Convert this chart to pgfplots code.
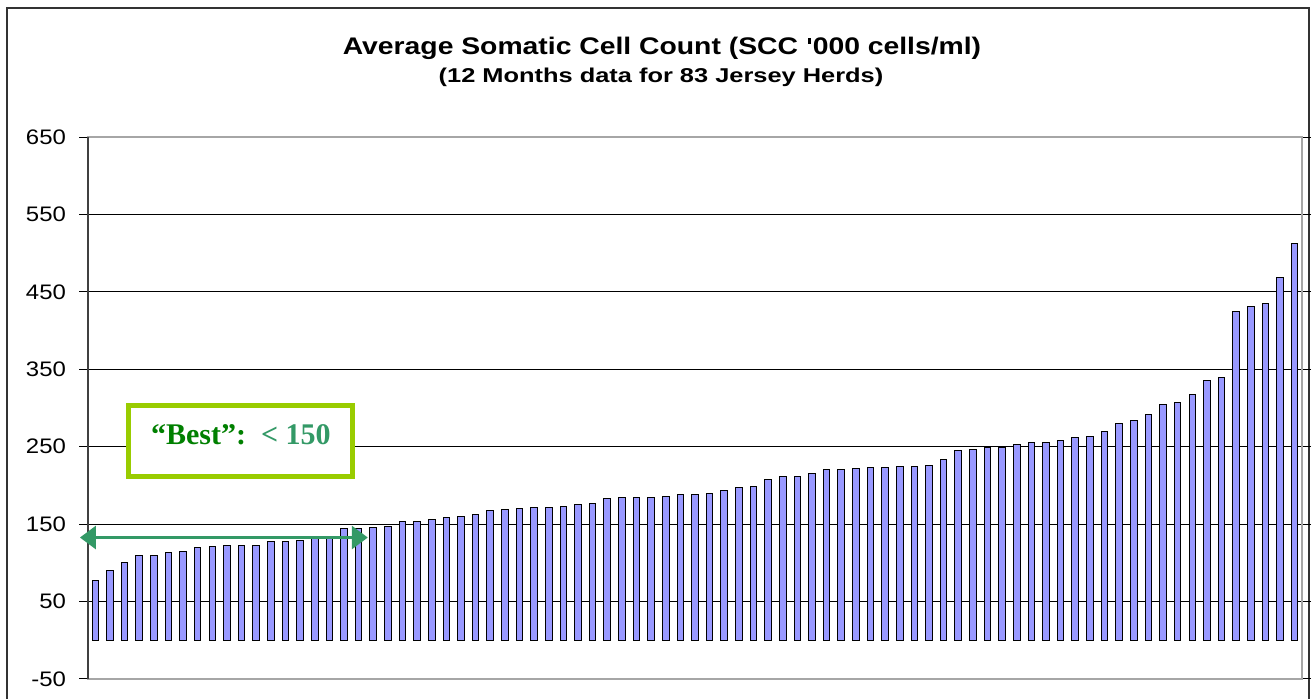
\documentclass[border=0pt]{standalone}
\usepackage{fontspec}
\setmainfont{Liberation Sans}
\newfontfamily\timesb{Liberation Serif}
\usepackage{graphicx}
\usepackage{pgfplots}
\pgfplotsset{compat=1.18}
\usepackage{pgfplotstable}
\usetikzlibrary{arrows.meta}
\definecolor{barblue}{HTML}{9999FF}
\definecolor{boxgreen}{HTML}{99CC00}
\definecolor{arrowgreen}{HTML}{339966}
\definecolor{dkgreen}{HTML}{008000}
\newcommand{\sx}[1]{\scalebox{1.14}[1]{#1}}
\newcommand{\sq}{\hspace{0.07em}\rule[0.47em]{0.1em}{0.245em}\hspace{0.07em}}

\pgfplotstableread{
x y
1 77
2 90
3 100
4 109
5 110
6 113
7 115
8 120
9 121
10 122
11 123
12 123
13 127
14 128
15 129
16 132
17 134
18 144
19 145
20 146
21 147
22 153
23 154
24 156
25 159
26 160
27 162
28 168
29 169
30 170
31 171
32 172
33 173
34 176
35 177
36 183
37 184
38 184
39 185
40 186
41 188
42 188
43 190
44 194
45 197
46 199
47 208
48 211
49 212
50 216
51 221
52 221
53 222
54 223
55 223
56 224
57 225
58 226
59 233
60 245
61 246
62 249
63 249
64 253
65 255
66 256
67 258
68 262
69 263
70 269
71 280
72 284
73 292
74 304
75 307
76 317
77 336
78 340
79 425
80 431
81 435
82 468
83 512
}\scc

\begin{document}
\begin{tikzpicture}[x=1pt,y=1pt]
\useasboundingbox (0,0) rectangle (656.5,349.5);
\draw[black!80, line width=0.75pt] (3.5,-2) -- (3.5,345.5) -- (654.5,345.5) -- (654.5,-2);
\node[anchor=base, inner sep=0pt, font=\bfseries\fontsize{12}{14}\selectfont] at (331,322) {\scalebox{1.18}[1]{Average Somatic Cell Count (SCC \sq000 cells/ml)}};
\node[anchor=base, inner sep=0pt, font=\bfseries\fontsize{10}{12}\selectfont] at (330.5,308.3) {\scalebox{1.27}[1]{(12 Months data for 83 Jersey Herds)}};
\begin{axis}[
  at={(44pt,10pt)}, anchor=south west,
  scale only axis, width=607pt, height=271pt,
  xmin=0.5, xmax=83.5, ymin=-50, ymax=650,
  xtick=\empty,
  ytick={-50,50,150,250,350,450,550,650},
  yticklabels={\sx{-50},\sx{50},\sx{150},\sx{250},\sx{350},\sx{450},\sx{550},\sx{650}},
  yticklabel style={font=\fontsize{10.5}{12}\selectfont, xshift=-3pt},
  tick align=outside, major tick length=4.5pt,
  ytick style={black, line width=0.5pt},
  ymajorgrids, grid style={black, line width=0.5pt},
  axis line style={draw=gray!70, line width=0.75pt},
  clip=false,
]
\addplot[ybar, bar width=3.3pt, fill=barblue, draw=black, line width=0.5pt] table[x=x,y=y] {\scc};
\draw[black!75, line width=0.75pt] (rel axis cs:0,0) -- (rel axis cs:0,1);
\draw[boxgreen, line width=2.5pt, fill=white] (axis cs:3.27,211.5) rectangle (axis cs:18.57,303.2);
\node[font=\timesb\bfseries\fontsize{15}{17}\selectfont] at (axis cs:10.95,265) {\textcolor{dkgreen}{“Best”:}\ \ \textcolor{arrowgreen}{< 150}};
\draw[arrowgreen, line width=1.5pt, {Triangle[length=8pt,width=11.5pt]}-{Triangle[length=8pt,width=11.5pt]}] (axis cs:-0.05,132.7) -- (axis cs:19.63,132.7);
\end{axis}
\end{tikzpicture}
\end{document}
